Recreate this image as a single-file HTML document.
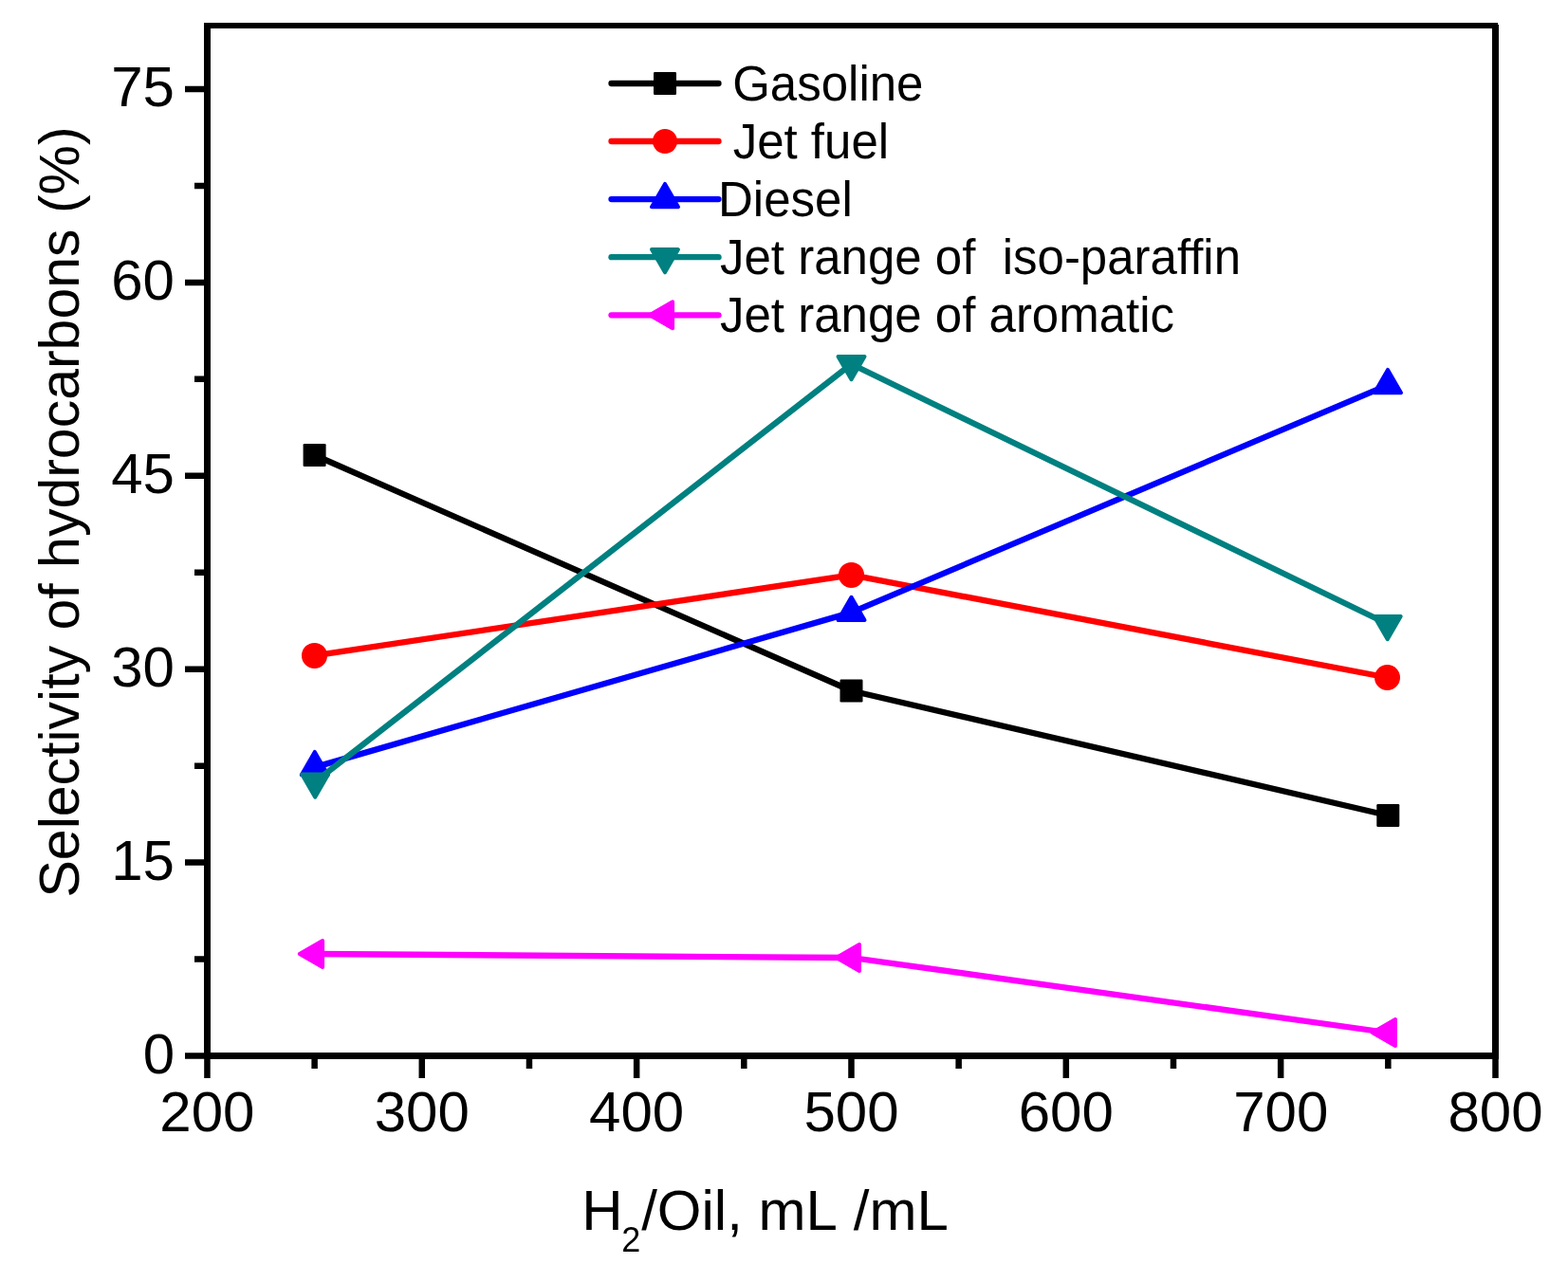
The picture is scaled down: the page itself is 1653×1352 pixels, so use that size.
<!DOCTYPE html>
<html><head><meta charset="utf-8"><title>Selectivity of hydrocarbons</title>
<style>
html,body{margin:0;padding:0;background:#fff;}
svg{display:block;font-family:"Liberation Sans",Arial,sans-serif;font-variant-ligatures:none;font-feature-settings:"liga" 0;}
</style></head><body>
<svg width="1653" height="1352" viewBox="0 0 1653 1352">
<rect width="1653" height="1352" fill="#fff"/>

<polyline points="331.60,480.00 897.50,728.50 1463.30,860.00" fill="none" stroke="#000000" stroke-width="6.3" stroke-linejoin="round"/>
<rect x="319.60" y="468.00" width="24.00" height="24.00" rx="1.2" fill="#000000"/>
<rect x="885.50" y="716.50" width="24.00" height="24.00" rx="1.2" fill="#000000"/>
<rect x="1451.30" y="848.00" width="24.00" height="24.00" rx="1.2" fill="#000000"/>
<polyline points="331.50,691.40 897.50,606.40 1462.50,714.50" fill="none" stroke="#FF0000" stroke-width="6.3" stroke-linejoin="round"/>
<circle cx="331.50" cy="691.40" r="13.50" fill="#FF0000"/>
<circle cx="897.50" cy="606.40" r="13.50" fill="#FF0000"/>
<circle cx="1462.50" cy="714.50" r="13.50" fill="#FF0000"/>
<polyline points="331.80,809.10 897.50,645.90 1463.00,406.10" fill="none" stroke="#0000FF" stroke-width="6.3" stroke-linejoin="round"/>
<polygon points="331.80,792.93 345.80,817.18 317.80,817.18" fill="#0000FF" stroke="#0000FF" stroke-width="4" stroke-linejoin="round"/>
<polygon points="897.50,629.73 911.50,653.98 883.50,653.98" fill="#0000FF" stroke="#0000FF" stroke-width="4" stroke-linejoin="round"/>
<polygon points="1463.00,389.93 1477.00,414.18 1449.00,414.18" fill="#0000FF" stroke="#0000FF" stroke-width="4" stroke-linejoin="round"/>
<polyline points="332.20,824.50 897.50,384.00 1462.70,658.00" fill="none" stroke="#008080" stroke-width="6.3" stroke-linejoin="round"/>
<polygon points="332.20,840.67 346.20,816.42 318.20,816.42" fill="#008080" stroke="#008080" stroke-width="4" stroke-linejoin="round"/>
<polygon points="897.50,400.17 911.50,375.92 883.50,375.92" fill="#008080" stroke="#008080" stroke-width="4" stroke-linejoin="round"/>
<polygon points="1462.70,674.17 1476.70,649.92 1448.70,649.92" fill="#008080" stroke="#008080" stroke-width="4" stroke-linejoin="round"/>
<polyline points="332.00,1006.00 897.90,1010.00 1462.90,1089.00" fill="none" stroke="#FF00FF" stroke-width="6.3" stroke-linejoin="round"/>
<polygon points="315.83,1006.00 340.08,992.00 340.08,1020.00" fill="#FF00FF" stroke="#FF00FF" stroke-width="4" stroke-linejoin="round"/>
<polygon points="881.73,1010.00 905.98,996.00 905.98,1024.00" fill="#FF00FF" stroke="#FF00FF" stroke-width="4" stroke-linejoin="round"/>
<polygon points="1446.73,1089.00 1470.98,1075.00 1470.98,1103.00" fill="#FF00FF" stroke="#FF00FF" stroke-width="4" stroke-linejoin="round"/>
<g fill="#000">
<rect x="215" y="24" width="7" height="1093"/>
<rect x="1573" y="26" width="7" height="1091"/>
<rect x="215" y="24" width="1364" height="6"/>
<rect x="215" y="1110" width="1365" height="7"/>
</g>
<path d="M195,1113.50 H218.5 M195,909.60 H218.5 M195,705.70 H218.5 M195,501.80 H218.5 M195,297.90 H218.5 M195,94.00 H218.5 M205,1011.55 H218.5 M205,807.65 H218.5 M205,603.75 H218.5 M205,399.85 H218.5 M205,195.95 H218.5 M218.45,1113.5 V1137 M444.79,1113.5 V1137 M671.13,1113.5 V1137 M897.47,1113.5 V1137 M1123.82,1113.5 V1137 M1350.16,1113.5 V1137 M1576.50,1113.5 V1137 M331.62,1113.5 V1127 M557.96,1113.5 V1127 M784.30,1113.5 V1127 M1010.65,1113.5 V1127 M1236.99,1113.5 V1127 M1463.33,1113.5 V1127" stroke="#000" stroke-width="6.5" stroke-linecap="butt" fill="none"/>
<g font-size="60" fill="#000">
<text x="184" y="1131.5" text-anchor="end">0</text>
<text x="184" y="927.6" text-anchor="end">15</text>
<text x="184" y="723.7" text-anchor="end">30</text>
<text x="184" y="519.8" text-anchor="end">45</text>
<text x="184" y="315.9" text-anchor="end">60</text>
<text x="184" y="112.0" text-anchor="end">75</text>
<text x="218.4" y="1193" text-anchor="middle">200</text>
<text x="444.8" y="1193" text-anchor="middle">300</text>
<text x="671.1" y="1193" text-anchor="middle">400</text>
<text x="897.5" y="1193" text-anchor="middle">500</text>
<text x="1123.8" y="1193" text-anchor="middle">600</text>
<text x="1350.2" y="1193" text-anchor="middle">700</text>
<text x="1576.5" y="1193" text-anchor="middle">800</text>
</g>
<text x="613.3" y="1297" font-size="60" fill="#000">H<tspan font-size="36" dx="-1.5" dy="22.5">2</tspan><tspan dx="1" dy="-22.5">/Oil, mL </tspan><tspan dx="2.5">/mL</tspan></text>
<text transform="translate(83,946.5) rotate(-90)" x="0" y="0" font-size="59" fill="#000">Selectivity of hydrocarbons (%)</text>
<g font-size="51" fill="#000" style="white-space:pre">
<line x1="644.5" y1="88" x2="757.5" y2="88" stroke="#000000" stroke-width="6.3" stroke-linecap="round"/>
<rect x="689.00" y="76.00" width="24.00" height="24.00" rx="1.2" fill="#000000"/>
<text x="758" y="106.0">&#160;Gasoline</text>
<line x1="644.5" y1="149" x2="757.5" y2="149" stroke="#FF0000" stroke-width="6.3" stroke-linecap="round"/>
<circle cx="701.00" cy="149.00" r="12.96" fill="#FF0000"/>
<text x="758.5" y="167.0">&#160;Jet fuel</text>
<line x1="644.5" y1="210.1" x2="757.5" y2="210.1" stroke="#0000FF" stroke-width="6.3" stroke-linecap="round"/>
<polygon points="701.00,193.93 715.00,218.18 687.00,218.18" fill="#0000FF" stroke="#0000FF" stroke-width="4" stroke-linejoin="round"/>
<text x="757" y="228.1">Diesel</text>
<line x1="644.5" y1="271.2" x2="757.5" y2="271.2" stroke="#008080" stroke-width="6.3" stroke-linecap="round"/>
<polygon points="701.00,287.37 715.00,263.12 687.00,263.12" fill="#008080" stroke="#008080" stroke-width="4" stroke-linejoin="round"/>
<text x="759" y="289.2">Jet range of &#160;iso-paraffin</text>
<line x1="644.5" y1="332.3" x2="757.5" y2="332.3" stroke="#FF00FF" stroke-width="6.3" stroke-linecap="round"/>
<polygon points="684.83,332.30 709.08,318.30 709.08,346.30" fill="#FF00FF" stroke="#FF00FF" stroke-width="4" stroke-linejoin="round"/>
<text x="759" y="350.3">Jet range of aromatic</text>
</g>
</svg></body></html>
